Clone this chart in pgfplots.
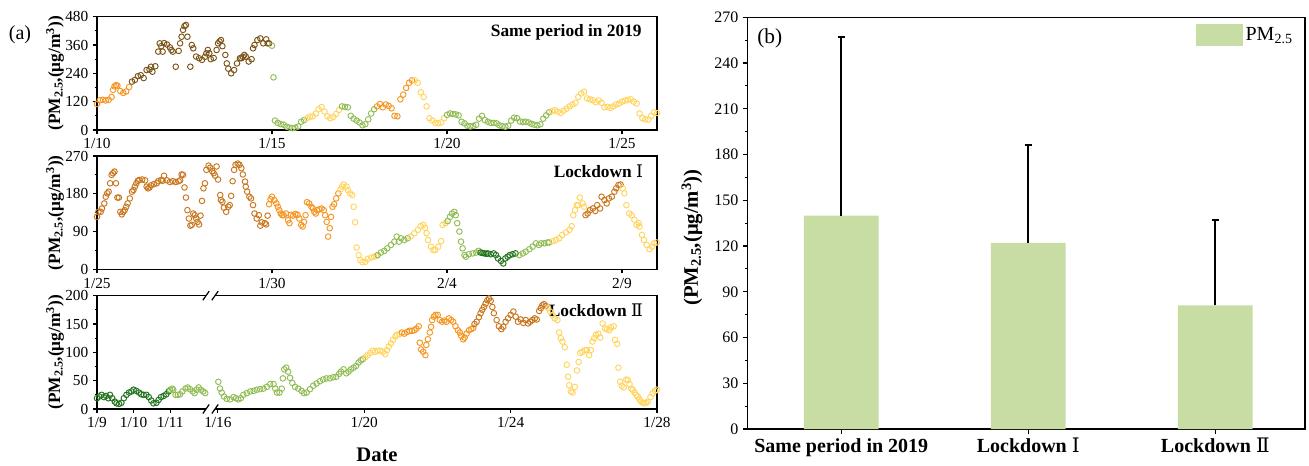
\documentclass[border=0pt]{standalone}
\usepackage{fontspec}
\setmainfont{Liberation Serif}
\newfontfamily\rnfont{DejaVu Serif}
\newcommand\rn[1]{{\rnfont\mdseries #1}}
\usepackage{pgfplots}
\pgfplotsset{compat=1.18}

% air-quality level colours
\definecolor{lvA}{RGB}{35,115,30}
\definecolor{lvB}{RGB}{145,188,85}
\definecolor{lvC}{RGB}{255,212,95}
\definecolor{lvD}{RGB}{245,150,35}
\definecolor{lvE}{RGB}{200,118,30}
\definecolor{lvF}{RGB}{122,84,24}
\definecolor{barfill}{RGB}{200,221,164}

\tikzset{tag/.style={anchor=east, font=\fontsize{13}{15}\selectfont\bfseries}}

\pgfplotsset{
  series panel/.style={
    scale only axis, width=420pt, height=85pt,
    tick pos=left, tick align=outside,
    axis line style={line width=0.9pt},
    every tick/.style={black, line width=0.8pt},
    major tick length=3pt, minor tick length=1.8pt,
    ymin=0, minor y tick num=1,
    tick label style={font=\fontsize{11.5}{13}\selectfont},
    /pgf/number format/assume math mode=true,
    ylabel={(PM\textsubscript{2.5},(μg/m\textsuperscript{3}))},
    ylabel style={at={(axis description cs:-0.075,0.5)}, anchor=center,
      font=\fontsize{13}{15}\selectfont\bfseries},
    clip=false,
  },
  hourly/.style={only marks, mark=o, mark size=2.1pt,
    mark options={line width=0.7pt, draw=#1}, color=#1},
}

\begin{document}
\begin{tikzpicture}
\useasboundingbox (0,0) rectangle (981.75pt,348.75pt);

\node[font=\fontsize{15}{17}\selectfont] at (15pt,322.5pt) {(a)};

% ---------- same period in 2019 ----------
\begin{axis}[series panel, at={(72.75pt,251.25pt)}, anchor=south west,
  xmin=0, xmax=384, ymax=480, ytick={0,120,240,360,480},
  xtick={0,120,240,360}, xticklabels={1/10,1/15,1/20,1/25}]
\addplot[hourly=lvD] coordinates {(0,110)(2,126)(4,128)(6,125)(8,128)(10,140)(11,170)(12,185)(13,190)(14,188)(16,165)(18,157)(20,163)(22,182)};
\addplot[hourly=lvF] coordinates {(24,205)(26,212)(28,228)(30,232)(32,220)(34,254)(36,256)(37,268)(38,247)(40,270)(42,332)(43,367)(44,355)(45,332)(46,368)(48,362)(50,350)(51,339)(52,332)(54,268)(56,335)(57,367)(58,395)(59,424)(60,440)(61,445)(62,395)(64,268)(65,360)(66,346)(68,311)(70,304)(72,297)(74,310)(75,325)(76,339)(77,325)(78,300)(80,305)(82,339)(83,367)(84,375)(85,381)(86,355)(88,318)(89,282)(90,260)(92,240)(94,254)(96,282)(98,304)(99,304)(100,310)(101,318)(102,311)(104,290)(106,300)(107,346)(108,360)(110,381)(112,388)(114,367)(116,384)(117,367)(118,367)};
\addplot[hourly=lvB] coordinates {(120,357)(121,223)(122,40)(124,30)(126,25)(128,22)(130,14)(132,10)(134,8)(136,10)(138,15)(140,35)(142,42)};
\addplot[hourly=lvC] coordinates {(144,50)(146,56)(148,58)(150,70)(152,88)(154,97)(156,78)(158,58)(160,50)(162,55)(164,68)(166,85)};
\addplot[hourly=lvB] coordinates {(168,100)(170,98)(172,96)(174,60)(176,48)(178,40)(180,32)(182,20)(184,25)(186,45)(188,70)(190,88)};
\addplot[hourly=lvD] coordinates {(192,100)(194,110)(196,96)(198,108)(200,102)(202,92)(204,60)(206,58)(208,130)(210,150)(212,178)(214,200)(216,210)};
\addplot[hourly=lvC] coordinates {(218,210)(220,200)(222,160)(224,140)(226,100)(228,50)(230,40)(232,30)(234,28)(236,32)(238,50)};
\addplot[hourly=lvB] coordinates {(240,64)(242,70)(244,68)(246,66)(248,62)(250,35)(252,28)(254,18)(256,15)(258,17)(260,22)(262,48)(264,60)(266,42)(268,35)(270,30)(272,30)(274,28)(276,20)(278,16)(280,14)(282,18)(284,40)(286,52)(288,50)(290,36)(292,34)(294,35)(296,32)(298,26)(300,22)(302,20)(304,24)(306,48)(308,62)(310,75)};
\addplot[hourly=lvC] coordinates {(312,80)(314,84)(316,78)(318,72)(320,82)(322,90)(324,100)(326,108)(328,115)(330,140)(332,155)(334,162)(336,134)(338,130)(340,126)(342,118)(344,125)(346,115)(348,96)(350,98)(352,94)(354,100)(356,108)(358,112)(360,120)(362,124)(364,128)(366,130)(368,120)(370,112)(372,70)(374,50)(376,45)(378,44)(380,60)(382,75)(384,72)};
\node[tag] at ([xshift=-8pt,yshift=-11.5pt]rel axis cs:1,1) {Same period in 2019};
\end{axis}

% ---------- lockdown I ----------
\begin{axis}[series panel, at={(72.75pt,146.75pt)}, anchor=south west,
  xmin=0, xmax=384, ymax=270, ytick={0,90,180,270},
  xtick={0,120,240,360}, xticklabels={1/25,1/30,2/4,2/9}]
\addplot[hourly=lvE] coordinates {(0,125)(1,137)(2.5,137)(3.4,145)(5,157)(6,173)(7,181)(8,185)(9,205)(10,225)(11,229)(12,233)(13,205)(14,171)(15,171)(16,137)(17,131)(18,137)(19,141)(20,149)(21,157)(22.5,169)(24,185)(25,189)(26,197)(27,205)(28,211)(29,213)(31,214)(33,212)(34,197)(35,193)(36,195)(37,200)(39,203)(41,205)(42,210)(44,213)(45,211)(46,223)(48,212)(50,208)(52,210)(54,208)(56,210)(57,212)(58,226)(59,225)(60,195)(61,171)(62,141)(63,121)(64,104)(65,106)(66,133)(67,129)(68,121)(69,113)(70,107)(71,128)(72,163)(73,193)(74,205)(75,237)(76.5,247)(77.6,242)(79,234)(80,229)(81,223)(82,245)(83,214)(84.5,177)(85,165)(86,161)(87,147)(88.6,137)(90,149)(91,153)(92,175)(93,210)(94,237)(95,249)(96.5,252)(97.7,249)(99,241)(100,226)(101.5,209)(102,197)(103,185)(104.5,173)(105.6,169)(107,153)(108,133)(109.5,121)(111,129)(112,104)(113,112)(115,110)(116,107)(117,128)};
\addplot[hourly=lvD] coordinates {(118,155)(119,167)(120,173)(121.6,165)(123,157)(124,149)(125,141)(126,133)(127,129)(128,129)(129.6,133)(131,117)(132,110)(133,130)(134.5,128)(136,132)(137.5,130)(138.7,121)(140,106)(141,102)(142,113)(143,129)(144,160)(145.5,157)(147,149)(148,145)(149,137)(150,133)(151,141)(152.5,143)(154,145)(155.5,141)(156.5,129)(157.5,113)(158.5,78)(159.6,98)(160.5,125)(161.5,149)(162.6,155)(164,169)(165.5,181)};
\addplot[hourly=lvC] coordinates {(167,190)(168,197)(169,202)(171,197)(172,189)(173.5,181)(175,177)(176,149)(177,112)(178,52)(179.4,34)(180.5,22)(182,17)(184,18)(185.6,25)(188,28)(190,30)(191.5,32)};
\addplot[hourly=lvB] coordinates {(192.5,34)(194.7,40)(197,44)(199,50)(201.6,58)(203.9,66)(205.5,78)(207,66)(208.5,74)(210.7,70)(213,74)};
\addplot[hourly=lvC] coordinates {(215,78)(217.6,86)(220,94)(222,103)(223.8,106)(225,99)(226,86)(227,70)(229,54)(230.6,46)(232,46)(234,54)(236,67)(237,106)(239,110)};
\addplot[hourly=lvB] coordinates {(240.5,115)(242,125)(243.4,133)(245,137)(246,129)(247,110)(248.5,90)(249.6,66)(250.7,50)(252,34)(253,30)(255,36)(257.6,38)(260,40)(261.7,44)};
\addplot[hourly=lvA] coordinates {(263,40)(264.3,39)(265.6,38)(267,37)(268,38)(270,36)(272,38)(273.6,34)(275,26)(277,20)(278.6,14)(280,26)(281.6,30)(283,34)(285,36)(287,38)};
\addplot[hourly=lvB] coordinates {(289.6,34)(292,38)(294,42)(296.5,48)(298.7,54)(301,62)(303,58)(304.5,62)(306.7,62)(309,64)(310,64)};
\addplot[hourly=lvC] coordinates {(312.5,67)(314.7,70)(317,74)(319,82)(321.6,88)(324,94)(325.5,103)(326.6,129)(327.8,141)(329,153)(330,153)(331,171)(333,157)(334,149)};
\addplot[hourly=lvE] coordinates {(335,129)(336.5,133)(338,141)(340,145)(341.7,139)(343,153)(345,145)(346,173)(348,165)(349.5,157)(351,169)(353,173)(354.8,185)(356,193)(357.6,201)(359,202)};
\addplot[hourly=lvC] coordinates {(360.5,193)(361.6,181)(363,153)(365,133)(366.6,129)(368.5,118)(370,106)(371.4,110)(372,102)(373.7,82)(375,70)(377,58)(378.8,48)(380.6,54)(382,62)(383.8,64)};
\node[tag] at ([xshift=-7pt,yshift=-11.75pt]rel axis cs:1,1) {Lockdown \rn{Ⅰ}};
\end{axis}

% ---------- lockdown II (broken time axis) ----------
\begin{axis}[series panel, at={(72.75pt,42pt)}, anchor=south west,
  xmin=0, xmax=367.3, ymax=200, ytick={0,50,100,150,200},
  xtick={0,24,48,79.3,175.3,271.3,367.3},
  xticklabels={1/9,1/10,1/11,1/16,1/20,1/24,1/28},
  xlabel={Date},
  xlabel style={at={(axis description cs:0.5,0)}, anchor=center, yshift=-34.5pt,
    font=\fontsize{15.5}{17}\selectfont\bfseries}]
\addplot[hourly=lvA] coordinates {(0,19)(1.5,22)(3,25)(4.6,21)(6,23)(7.4,19)(8.5,25)(10,19)(11.7,13)(12.8,10)(14.5,9)(16,11)(17.6,19)(19.3,25)(21,29)(22.6,31)(24,34)(25.8,32)(27.6,29)(29,26)(30.6,25)(32.4,25)(34,21)(35.6,15)(37,10)(39,11)(40.4,16)(42,21)(43.7,23)(45.4,26)(47,31)};
\addplot[hourly=lvB] coordinates {(48,34)(49.3,36)(50,34)(51.5,25)(53,25)(54.5,26)(56,31)(58,36)(59.5,38)(61,35)(62.8,31)(64,28)(65.4,34)(66.7,38)(68,34)(69.7,31)(71,28)};
\addplot[hourly=lvB] coordinates {(79.6,48)(80.7,36)(81.8,29)(83.3,22)(85.1,18)(87.3,17)(89.5,21)(91.2,19)(92.7,17)(94.3,19)(96,25)(98.3,28)(100.5,31)(102.7,32)(104.8,34)(107,35)(109.2,36)(111.4,39)(113.6,44)(115.8,44)(116.9,36)(118,29)(119.7,29)(121.2,36)(121.9,54)(122.8,70)(124.1,73)(125.3,66)(126.6,55)(128.1,46)(129.9,39)(132,36)(134.2,32)(135.7,28)(137.5,29)(139.7,35)(141.8,41)(144,45)(146.2,49)(148.3,52)(150.5,54)(152.7,54)(154.9,56)(157,57)(158.8,62)(160,66)(161.7,70)(163.5,63)(165,66)(166.5,70)(168.3,73)(170,76)(171.6,82)(173.1,86)(174.4,88)};
\addplot[hourly=lvC] coordinates {(176,91)(177.5,95)(179.2,99)(181,103)(182.5,101)(184,103)(185.8,103)(187.6,101)(189,97)(190.2,104)(191.3,110)(192.8,116)(194.1,122)(195.7,128)(196.8,131)(198.5,132)};
\addplot[hourly=lvD] coordinates {(200,135)(201.6,133)(203.4,136)(205,138)(206.6,138)(208.2,139)(209.5,142)(211,146)(211.7,117)(212.6,105)(213.9,101)(215.4,95)(216,113)(217,123)(218.3,135)(219.1,145)(219.8,157)(220.9,163)(222,166)(223.5,166)(224.8,157)(226.4,154)(227.9,156)(229.2,154)(230.8,160)(232.3,157)(233.6,154)(235.1,146)(236.7,139)(238,135)(238.9,129)(240.2,123)(241.1,126)(242.4,133)(244,139)(245.5,141)(246.8,143)};
\addplot[hourly=lvE] coordinates {(247.6,150)(249,154)(250.5,162)(251.6,169)(252.7,175)(253.8,180)(254.9,186)(256,192)(257.1,195)(258.2,191)(259.3,180)(260.3,169)(262.1,157)(263.6,146)(265.2,141)(266.5,145)(268,154)(269.6,160)(271.3,166)(273.1,172)(274.6,163)(276.1,154)(277.9,158)(279.6,152)(281.2,157)(282.7,151)(284.1,154)(285.6,157)(287.1,160)(288.4,158)(290,173)(291.1,178)(292.1,183)(293.2,185)(294.3,182)};
\addplot[hourly=lvC] coordinates {(295.9,178)(297.2,172)(298.7,166)(300.2,160)(302,157)(303.1,135)(304.2,125)(305.3,119)(306.8,109)(308.1,78)(309,57)(309.7,42)(310.8,31)(311.9,29)(313.4,39)(314.8,68)(315.9,83)(317,99)(318.4,101)(320,104)(321.3,104)(322.8,95)(323.9,104)(325,119)(326.1,125)(327.2,131)(328.8,133)(330.1,126)(331.6,151)(333.2,142)(334.5,141)(336,139)(337.1,144)(338.9,146)(339.8,122)(341.1,115)(342,73)(343.1,48)(344.2,41)(345.5,38)(347.1,52)(348.2,51)(349.3,44)(350.4,36)(351.4,34)(352.6,29)(353.6,25)(354.7,22)(355.8,17)(356.9,13)(358,11)(359,10)(360.2,11)(361.2,13)(363,21)(364.5,28)(366,32)(367.2,34)};
\node[tag] at ([xshift=-7pt,yshift=-10.75pt]rel axis cs:1,1) {Lockdown \rn{Ⅱ}};
\coordinate (brA) at (axis cs:71.5,0);
\coordinate (brB) at (axis cs:77.4,0);
\coordinate (brC) at (axis cs:71.5,200);
\coordinate (brD) at (axis cs:77.4,200);
\end{axis}
% axis break marks
\fill[white] ([yshift=-1.6pt]brA) rectangle ([yshift=1.6pt]brB);
\fill[white] ([yshift=-1.6pt]brC) rectangle ([yshift=1.6pt]brD);
\foreach \c in {brA,brB,brC,brD}
  \draw[line width=0.9pt] ([shift={(-2.4pt,-3.4pt)}]\c) -- ([shift={(2.4pt,3.4pt)}]\c);

% ---------- (b) mean PM2.5 ----------
\begin{axis}[at={(560.8pt,27pt)}, anchor=south west, scale only axis,
  width=418pt, height=308.8pt,
  ybar, bar width=0.4,
  xmin=0.5, xmax=3.48, ymin=0, ymax=270,
  ytick={0,30,...,270}, minor y tick num=1,
  xtick={1,2,3},
  xticklabels={Same period in 2019,Lockdown \rn{Ⅰ},Lockdown \rn{Ⅱ}},
  tick pos=left, tick align=outside,
  axis line style={line width=0.9pt},
  every tick/.style={black, line width=0.8pt},
  major tick length=3.5pt, minor tick length=2pt,
  /pgf/number format/assume math mode=true,
  yticklabel style={font=\fontsize{12}{14}\selectfont},
  xticklabel style={font=\fontsize{15}{17}\selectfont\bfseries},
  ylabel={(PM\textsubscript{2.5},(μg/m\textsuperscript{3}))},
  ylabel style={at={(axis description cs:-0.1,0.465)}, anchor=center,
    font=\fontsize{15.5}{17}\selectfont\bfseries},
  legend style={draw=none, fill=none, at={(0.983,0.985)}, anchor=north east,
    font=\fontsize{15}{17}\selectfont, inner sep=0pt},
  legend image code/.code={\fill[barfill] (-4pt,-8.3pt) rectangle (31pt,8.3pt);},
  ]
\addplot[fill=barfill, draw=none,
  error bars/.cd, y dir=plus, y explicit,
  error bar style={line width=1.5pt, black},
  error mark options={rotate=90, mark size=2.8pt, line width=1.5pt, black}]
  coordinates {(1,140) +- (0,117) (2,122) +- (0,64) (3,81) +- (0,56)};
\addlegendentry{PM\textsubscript{2.5}}
\node[anchor=north west, inner sep=0pt, font=\fontsize{16}{18}\selectfont]
  at ([xshift=7pt,yshift=-8pt]rel axis cs:0,1) {(b)};
\end{axis}
\end{tikzpicture}
\end{document}
